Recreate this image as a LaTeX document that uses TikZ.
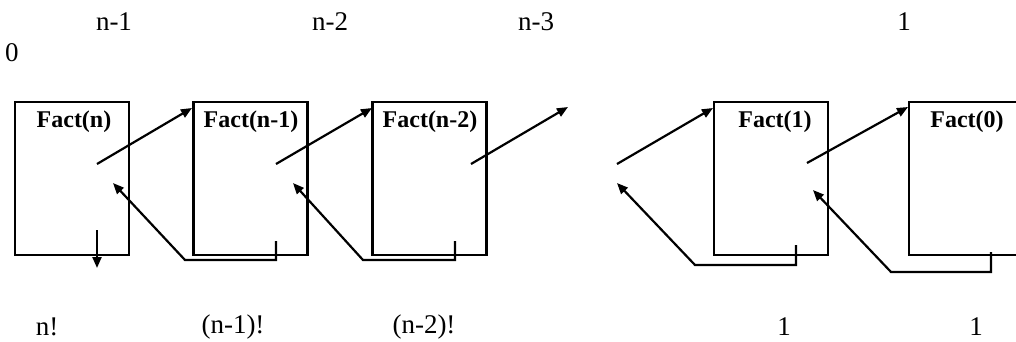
\documentclass[tikz,border=0pt]{standalone}
\usepackage{fontspec}
\setmainfont{Liberation Serif}
\usetikzlibrary{arrows.meta}
\begin{document}
\begin{tikzpicture}[x=1pt,y=-1pt,
  frame/.style={draw,line width=2.6pt,minimum width=114pt,minimum height=153pt,inner sep=0pt},
  ftitle/.style={font=\fontsize{24}{28}\selectfont\bfseries,inner sep=0pt},
  lbl/.style={font=\fontsize{27}{30}\selectfont,inner sep=0pt},
  call/.style={line width=2.2pt,-{Triangle[length=11pt,width=9pt]}},
  ret/.style={line width=2.2pt,-{Triangle[length=11pt,width=9pt]}}]
\useasboundingbox (0,0) rectangle (1016,342);
% frames
\node[frame] (b1) at (72,178.5) {};
\node[frame] (b2) at (250.5,178.5) {};
\node[frame] (b3) at (429.5,178.5) {};
\node[frame] (b4) at (771,178.5) {};
\node[frame] (b5) at (966,178.5) {};
% titles
\node[ftitle] (t1) at (74,122) {Fact(n)};
\node[ftitle] (t2) at (251,122) {Fact(n-1)};
\node[ftitle] (t3) at (430,122) {Fact(n-2)};
\node[ftitle] (t4) at (775,122) {Fact(1)};
\node[ftitle] (t5) at (967,122) {Fact(0)};
% top labels
\node[lbl] (a1) at (114,22) {n-1};
\node[lbl] (a2) at (330,22) {n-2};
\node[lbl] (a3) at (536,22) {n-3};
\node[lbl] (a4) at (904,22) {1};
\node[lbl] (a0) at (12,53) {0};
% bottom labels
\node[lbl] (r1) at (47,327) {n!};
\node[lbl] (r2) at (233,327) {(n-1)!};
\node[lbl] (r3) at (424,327) {(n-2)!};
\node[lbl] (r4) at (784,327) {1};
\node[lbl] (r5) at (976,327) {1};
% call coordinates
\coordinate (c1) at (97,164);
\coordinate (c2) at (276,164);
\coordinate (c3) at (471,164);
\coordinate (cg) at (617,164);
\coordinate (c4) at (807,163);
\coordinate (e2) at (192,108);
\coordinate (e3) at (372,108);
\coordinate (eg) at (568,107);
\coordinate (e4) at (713,108);
\coordinate (e5) at (908,107);
% calls
\draw[call] (c1) -- (e2);
\draw[call] (c2) -- (e3);
\draw[call] (c3) -- (eg);
\draw[call] (cg) -- (e4);
\draw[call] (c4) -- (e5);
% return coordinates
\coordinate (s2) at (276,241);
\coordinate (k2) at (185,260);
\coordinate (p1) at (113,183);
\coordinate (s3) at (455,241);
\coordinate (k3) at (363,260);
\coordinate (p2) at (293,183);
\coordinate (s4) at (796,245);
\coordinate (k4) at (695,265);
\coordinate (pg) at (617,183);
\coordinate (s5) at (991,252);
\coordinate (k5) at (891,272);
\coordinate (p4) at (813,190);
% returns
\draw[ret,line join=miter] (s2) |- (k2) -- (p1);
\draw[ret,line join=miter] (s3) |- (k3) -- (p2);
\draw[ret,line join=miter] (s4) |- (k4) -- (pg);
\draw[ret,line join=miter] (s5) |- (k5) -- (p4);
% final result
\coordinate (d1) at (97,230);
\coordinate (d2) at (97,268);
\draw[call] (d1) -- (d2);
\end{tikzpicture}
\end{document}
